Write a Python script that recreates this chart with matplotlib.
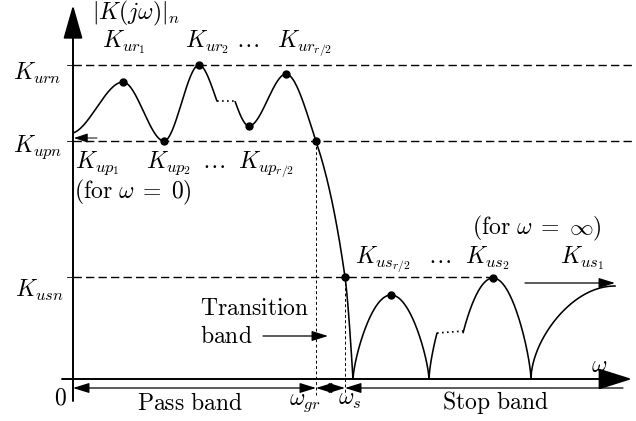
import numpy as np
import matplotlib
matplotlib.use('Agg')
import matplotlib.pyplot as plt
from matplotlib.patches import FancyArrowPatch

plt.rcParams['mathtext.fontset'] = 'cm'
plt.rcParams['font.family'] = 'DejaVu Serif'

# levels of |K(jw)|_n (units: px above the omega axis)
k_urn = 314
k_upn = 238
k_usn = 102

# pass band key points (omega with the dotted break taken out), value, slope
pass_w = [0, 50, 91, 126, 158, 195, 225, 254, 262]
pass_k = [246, 297, 238, 314, 253, 305, 238, 102, 0]
pass_m = [0.3, 0, 0, 0, 0, 0, -3.0, -7.0, -16.0]
pass_gap = 144          # where the dotted break starts
pass_gap_w = 18         # width of the dotted break

# stop band lobes (start, width, peak), second lobe has a dotted break
lobe_w0 = [280, 356]
lobe_width = [76, 76]
lobe_k = [84, 101]
stop_gap = 364
stop_gap_w = 26

# tail towards omega = inf
tail_w = [458, 542]
tail_k = 93

# marks on the omega axis
w_gr = 243
w_s = 272

FS = 17


def hermite(xs, ys, ms, n=80):
    px, py = [], []
    for i in range(len(xs) - 1):
        h = xs[i + 1] - xs[i]
        t = np.linspace(0, 1, n)
        h00 = 2 * t**3 - 3 * t**2 + 1
        h10 = t**3 - 2 * t**2 + t
        h01 = -2 * t**3 + 3 * t**2
        h11 = t**3 - t**2
        px.append(xs[i] + h * t)
        py.append(h00 * ys[i] + h10 * h * ms[i] + h01 * ys[i + 1] + h11 * h * ms[i + 1])
    return np.concatenate(px), np.concatenate(py)


def arrow(ax, p0, p1, style='-|>', ms=22, lw=0.9, hl=0.45, hw=0.14):
    a = FancyArrowPatch(p0, p1, arrowstyle='%s,head_length=%g,head_width=%g' % (style, hl, hw),
                        mutation_scale=ms, lw=lw, color='k', shrinkA=0, shrinkB=0)
    ax.add_patch(a)


fig = plt.figure(figsize=(6.36, 4.21), dpi=100)
ax = fig.add_axes([0, 0, 1, 1])
ax.set_xlim(-73, 563)
ax.set_ylim(-42, 379)
ax.axis('off')

# axes
arrow(ax, (-11, 0), (559, 0), lw=1.4, ms=30, hl=0.7, hw=0.22)
arrow(ax, (0, -22), (0, 374), lw=1.4, ms=30, hl=0.7, hw=0.2)

# level lines
for lev, x1 in [(k_urn, 563), (k_upn, 563), (k_usn, 420)]:
    ax.plot([-6, 0], [lev, lev], color='k', lw=0.6)
    ax.plot([0, x1], [lev, lev], color='k', lw=1.0, ls=(0, (6, 3)))

# vertical marks
ax.plot([w_gr, w_gr], [k_upn, -16], color='k', lw=0.7, ls=(0, (3, 2.5)))
ax.plot([w_s, w_s], [k_usn, -16], color='k', lw=0.7, ls=(0, (3, 2.5)))

# pass band curve
xv, yv = hermite(pass_w, pass_k, pass_m)
left = xv <= pass_gap
ax.plot(xv[left], yv[left], color='k', lw=1.15)
ax.plot(xv[~left] + pass_gap_w, yv[~left], color='k', lw=1.15)
y_brk = np.interp(pass_gap, xv, yv)
ax.plot([pass_gap, pass_gap + pass_gap_w], [y_brk, y_brk], color='k', lw=1.2, ls=(0, (1, 2)))

# stop band lobes
for w0, wd, pk in zip(lobe_w0, lobe_width, lobe_k):
    t = np.linspace(0, 1, 300)
    x = w0 + wd * t
    y = pk * np.sin(np.pi * t) ** 0.7
    if w0 <= stop_gap <= w0 + wd:
        lft = x <= stop_gap
        ax.plot(x[lft], y[lft], color='k', lw=1.15)
        ax.plot(x[~lft] + stop_gap_w, y[~lft], color='k', lw=1.15)
        yb = np.interp(stop_gap, x, y)
        ax.plot([stop_gap, stop_gap + stop_gap_w], [yb, yb + 2], color='k', lw=1.2, ls=(0, (1, 2)))
    else:
        ax.plot(x, y, color='k', lw=1.15)

# tail
t = np.linspace(0, 1, 200)
ax.plot(tail_w[0] + (tail_w[1] - tail_w[0]) * t, tail_k * np.sin(np.pi / 2 * t) ** 0.55, color='k', lw=1.15)

# dots
def real_w(w):
    return w + pass_gap_w if w > pass_gap else w

dot_idx = [1, 2, 3, 4, 5, 6, 7]
ax.plot([real_w(pass_w[i]) for i in dot_idx], [pass_k[i] for i in dot_idx], 'ko', ms=5)
ax.plot([lobe_w0[0] + lobe_width[0] / 2, lobe_w0[1] + lobe_width[1] / 2 + stop_gap_w], lobe_k, 'ko', ms=5)

# band arrows
yb = -9
arrow(ax, (0, yb), (w_gr, yb), style='<|-|>')
arrow(ax, (w_gr, yb), (w_s, yb), style='<|-|>')
arrow(ax, (550, yb), (w_s, yb))

# other arrows
arrow(ax, (190, 43), (255, 43))
arrow(ax, (452, 96), (542, 96))
arrow(ax, (24, 241), (1, 241), lw=0.7, ms=14, hl=0.6, hw=0.2)

# texts
def tx(x, y, s, ha='left', va='baseline'):
    ax.text(x, y, s, fontsize=FS, ha=ha, va=va)

tx(19, 366, r'$|K(j\omega)|_n$', va='center')
tx(29, 332, r'$K_{ur_1}$')
tx(112, 332, r'$K_{ur_2}$')
tx(174, 332, r'$\ldots$', ha='center')
tx(204, 332, r'$K_{ur_{r/2}}$')
tx(-60, 299, r'$K_{urn}$')
tx(-60, 227, r'$K_{upn}$')
tx(-58, 82, r'$K_{usn}$')
tx(2, 211, r'$K_{up_1}$')
tx(73, 211, r'$K_{up_2}$')
tx(140, 211, r'$\ldots$', ha='center')
tx(165, 211, r'$K_{up_{r/2}}$')
tx(1, 181, r'$\mathrm{(for}\ \omega\;=\;0\mathrm{)}$')
tx(127, 64, r'$\mathrm{Transition}$')
tx(127, 36, r'$\mathrm{band}$')
tx(-13, -19, r'$0$', ha='center', va='center')
tx(117, -31, r'$\mathrm{Pass\ band}$', ha='center')
tx(232, -26, r'$\omega_{gr}$', ha='center')
tx(277, -26, r'$\omega_s$', ha='center')
tx(422, -30, r'$\mathrm{Stop\ band}$', ha='center')
tx(526, 7, r'$\omega$', ha='center')
tx(399, 151, r'$\mathrm{(for}\ \omega\;=\;\infty\mathrm{)}$', va='center')
tx(282, 116, r'$K_{us_{r/2}}$')
tx(367, 116, r'$\ldots$', ha='center')
tx(392, 116, r'$K_{us_2}$')
tx(487, 116, r'$K_{us_1}$')

fig.savefig('out.png', dpi=100)
